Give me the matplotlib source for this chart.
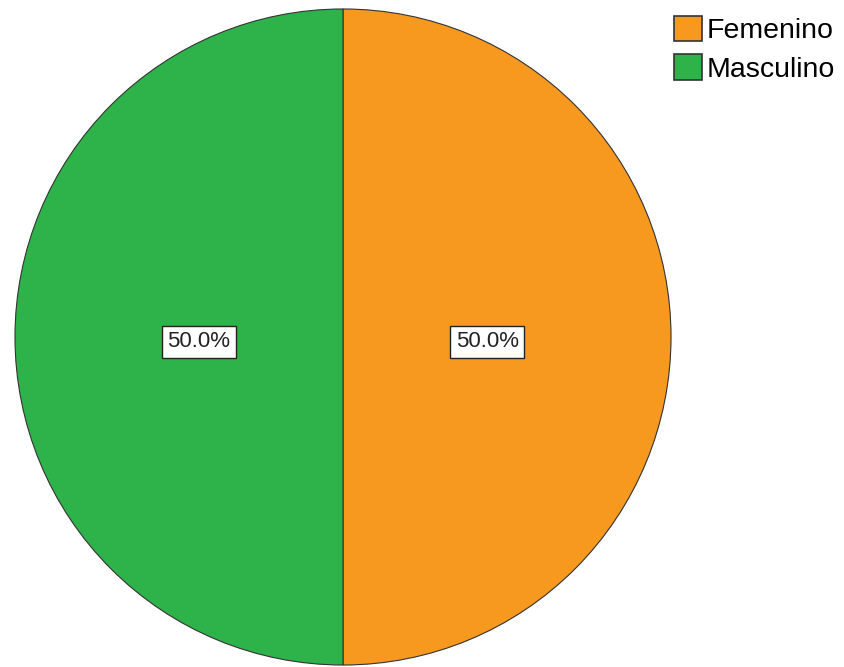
import matplotlib.pyplot as plt

labels = ['Femenino', 'Masculino']
values = [50, 50]
colors = ['#F7991F', '#2EB34B']

plt.rcParams['font.family'] = ['Liberation Sans', 'DejaVu Sans']

fig = plt.figure(figsize=(8.44, 6.67), dpi=100)
ax = fig.add_axes([14 / 844, 1 / 667, 658 / 844, 658 / 667])

wedges, texts, autotexts = ax.pie(values, colors=colors, startangle=90, counterclock=False,
                                  autopct='%1.1f%%', pctdistance=0.44, radius=1,
                                  wedgeprops=dict(edgecolor='#333333', linewidth=0.8))
for t in autotexts:
    t.set_fontsize(16)
    t.set_color('#222222')
    x, y = t.get_position()
    t.set_position((x, y - 0.015))
    t.set_bbox(dict(boxstyle='square,pad=0.25', facecolor='white', edgecolor='#222222', linewidth=1.0))
ax.set_xlim(-1.003, 1.003)
ax.set_ylim(-1.003, 1.003)
ax.set_aspect('auto')

leg = fig.legend(wedges, labels, loc='upper left', bbox_to_anchor=(674 / 844, 1 - 16 / 667),
                 frameon=False, fontsize=20.5, handlelength=1.0, handleheight=1.0,
                 handletextpad=0.15, labelspacing=0.35, borderpad=0, borderaxespad=0)
for h in leg.legend_handles:
    h.set_linewidth(1.2)

fig.savefig('out.png', dpi=100)
